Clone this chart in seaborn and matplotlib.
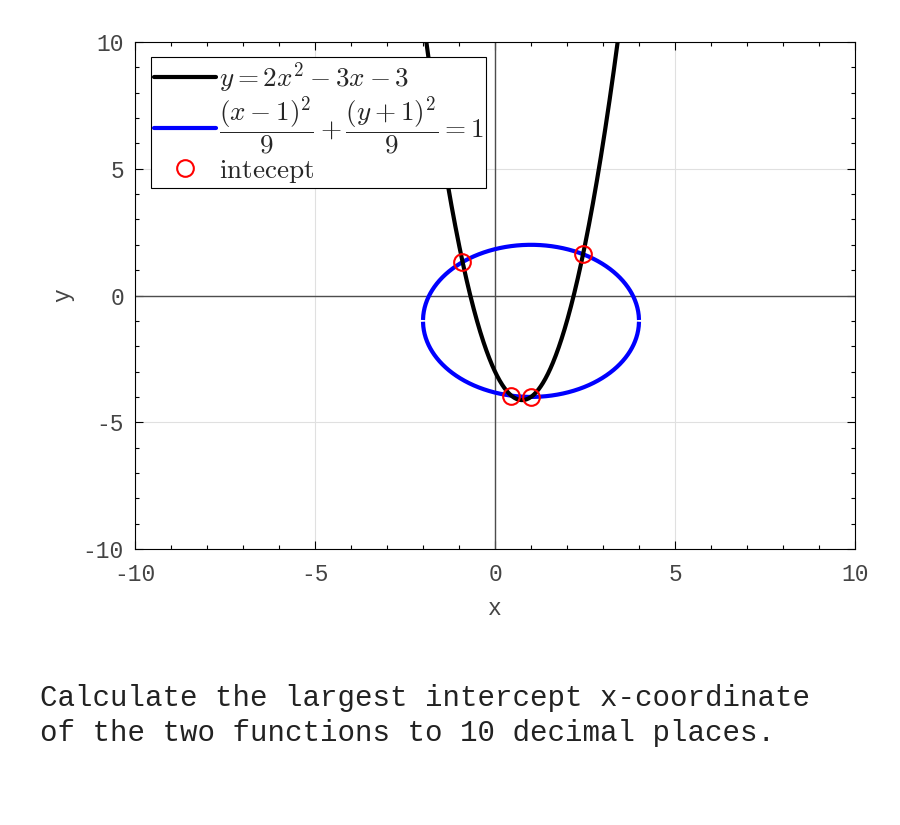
import numpy as np
import pandas as pd
import matplotlib
matplotlib.use("Agg")
import matplotlib.pyplot as plt
import seaborn as sns
from matplotlib.lines import Line2D
from matplotlib.ticker import MultipleLocator

# Donnees du graphique
parab_coef = [2, -3, -3]          # y = 2x^2 - 3x - 3
ellipse_center = [1, -1]          # (x-1)^2/9 + (y+1)^2/9 = 1
ellipse_radius = [3, 3]
x_range = [-10, 10]
intercept_x = [-0.905, 0.455, 1.0, 2.4475]
intercept_y = [1.32, -3.95, -4.0, 1.63]
tick_vals = [-10, -5, 0, 5, 10]
question = ["Calculate the largest intercept x-coordinate",
            "of the two functions to 10 decimal places."]

sns.set_style("ticks")
plt.rcParams["mathtext.fontset"] = "cm"
mono = "Liberation Mono"
tick_col = "#444444"

fig = plt.figure(figsize=(9, 8.25), dpi=100)
ax = fig.add_axes([0.15, 0.3345, 0.80, 0.6146])

# Courbes
xs = np.linspace(x_range[0], x_range[1], 2001)
df_par = pd.DataFrame({"x": xs, "y": np.polyval(parab_coef, xs)})

cx, cy = ellipse_center
rx, ry = ellipse_radius
xe = np.linspace(cx - rx + 0.0002, cx + rx - 0.0002, 800)
he = ry * np.sqrt(np.clip(1 - ((xe - cx) / rx) ** 2, 0, None))
df_up = pd.DataFrame({"x": xe, "y": cy + he})
df_lo = pd.DataFrame({"x": xe, "y": cy - he})

ax.grid(True, color="#e0e0e0", linewidth=0.8)
ax.axhline(0, color="#4d4d4d", linewidth=1.0, zorder=1)
ax.axvline(0, color="#4d4d4d", linewidth=1.0, zorder=1)

sns.lineplot(data=df_par, x="x", y="y", color="black", linewidth=3,
             sort=False, estimator=None, ax=ax, zorder=3)
for d in (df_up, df_lo):
    sns.lineplot(data=d, x="x", y="y", color="#0000ff", linewidth=3,
                 sort=False, estimator=None, ax=ax, zorder=2,
                 solid_capstyle="butt")
ax.plot(intercept_x, intercept_y, "o", markersize=12, markerfacecolor="none",
        markeredgecolor="#ff0000", markeredgewidth=1.5, zorder=4)

ax.set_xlim(-10, 10)
ax.set_ylim(-10, 10)
ax.set_xticks(tick_vals)
ax.set_yticks(tick_vals)
ax.set_xticklabels([str(v) for v in tick_vals], fontfamily=mono, fontsize=16.5, color=tick_col)
ax.set_yticklabels([str(v) for v in tick_vals], fontfamily=mono, fontsize=16.5, color=tick_col)
ax.xaxis.set_minor_locator(MultipleLocator(1))
ax.yaxis.set_minor_locator(MultipleLocator(1))
ax.tick_params(which="both", direction="in", top=True, right=True, color="black", width=0.8)
ax.tick_params(which="major", length=6)
ax.tick_params(axis="x", which="major", pad=10)
ax.tick_params(axis="y", which="major", pad=8)
ax.tick_params(which="minor", length=3)
for s in ax.spines.values():
    s.set_color("black")
    s.set_linewidth(0.8)
ax.set_xlabel("x", fontfamily=mono, fontsize=16.5, color=tick_col, labelpad=8)
ax.set_ylabel("y", fontfamily=mono, fontsize=16.5, color=tick_col, labelpad=6)

handles = [
    Line2D([], [], color="black", linewidth=3),
    Line2D([], [], color="#0000ff", linewidth=3),
    Line2D([], [], linestyle="none", marker="o", markersize=12,
           markerfacecolor="none", markeredgecolor="#ff0000", markeredgewidth=1.5),
]
labels = [r"$y = 2x^2 - 3x - 3$",
          r"$\dfrac{(x-1)^2}{9} + \dfrac{(y+1)^2}{9} = 1$",
          r"$\mathrm{intecept}$"]
leg = ax.legend(handles, labels, loc="upper left", bbox_to_anchor=(0.022, 0.97),
                fontsize=19.5, handlelength=2.3, handletextpad=0.1, borderpad=0.1,
                labelspacing=0.0, borderaxespad=0, fancybox=False, framealpha=1)
leg.get_frame().set_edgecolor("black")
leg.get_frame().set_linewidth(0.8)

fig.text(40 / 900, 1 - 706 / 825, question[0], fontfamily=mono, fontsize=21,
         color="#222222", va="baseline")
fig.text(40 / 900, 1 - 741 / 825, question[1], fontfamily=mono, fontsize=21,
         color="#222222", va="baseline")

fig.savefig("out.png", dpi=100, facecolor="white")
